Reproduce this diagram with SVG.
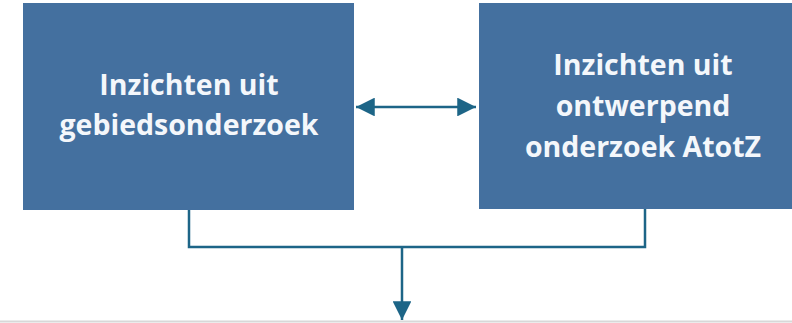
<svg xmlns="http://www.w3.org/2000/svg" width="792" height="323" viewBox="0 0 792 323">
<defs>
<style>
.box{fill:#44709f;}
.lbl{font-family:"Open Sans","Liberation Sans",sans-serif;font-weight:bold;font-size:28.5px;fill:#f4f7fb;text-anchor:middle;}
.con{fill:none;stroke:#1d6587;stroke-width:2.5;}
</style>
<marker id="ah" viewBox="0 0 10 10" refX="10" refY="5" markerWidth="7.5" markerHeight="7.5" markerUnits="strokeWidth" orient="auto-start-reverse">
<path d="M0,0 L10,5 L0,10 z" fill="#1d6587"/>
</marker>
</defs>
<rect width="792" height="323" fill="#ffffff"/>
<line x1="0" y1="321.5" x2="792" y2="321.5" stroke="#d8d8d8" stroke-width="2"/>
<g id="node-gebied">
<rect class="box" x="23" y="3" width="331" height="207"/>
<text class="lbl" x="189" y="95">Inzichten uit</text>
<text class="lbl" x="189" y="135">gebiedsonderzoek</text>
</g>
<g id="node-atotz">
<rect class="box" x="479" y="3" width="320" height="206"/>
<text class="lbl" x="643" y="75">Inzichten uit</text>
<text class="lbl" x="643" y="116">ontwerpend</text>
<text class="lbl" x="643" y="157">onderzoek AtotZ</text>
</g>
<g id="connectors">
<line class="con" x1="356" y1="107" x2="476" y2="107" marker-start="url(#ah)" marker-end="url(#ah)"/>
<polyline class="con" points="189,210 189,247 645,247 645,209"/>
<line class="con" x1="402" y1="247" x2="402" y2="320" marker-end="url(#ah)"/>
</g>
</svg>
